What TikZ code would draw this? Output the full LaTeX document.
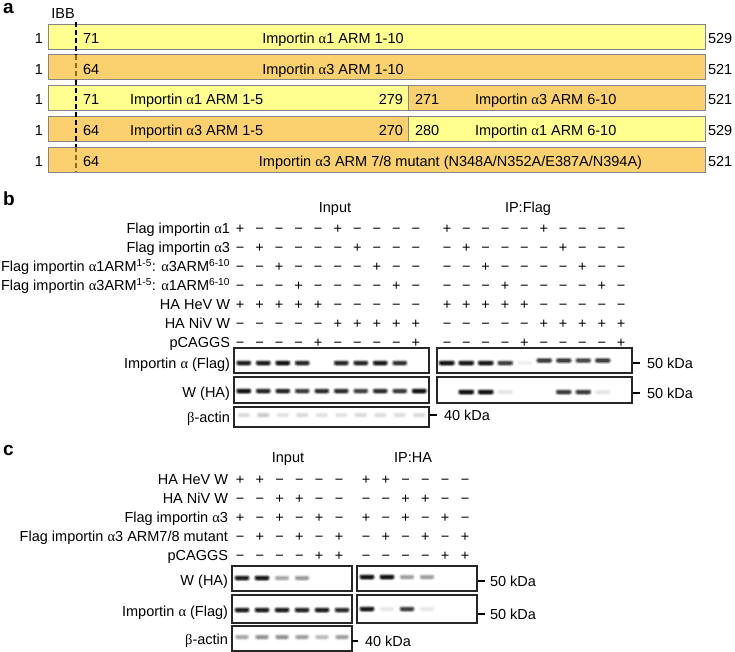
\documentclass[tikz,border=0pt]{standalone}
\usepackage{fontspec}
\setmainfont{Liberation Sans}
\newfontfamily\grk{Liberation Serif}
\newcommand\al{{\grk α}}
\newcommand\be{{\grk β}}
\definecolor{ylw}{HTML}{FFFF8F}
\definecolor{org}{HTML}{FAD16E}
\definecolor{bord}{HTML}{858585}
\definecolor{dashbr}{HTML}{8A6A20}
\newcommand\band[4]{%
  \pgfmathsetmacro\bx{#1}\pgfmathsetmacro\by{#2}%
  \pgfmathsetmacro\opa{0.22*#3}\pgfmathsetmacro\opb{0.45*#3}\pgfmathsetmacro\opc{0.8*#3}%
  \fill[black,opacity=\opa,rounded corners=3pt] ({\bx-#4-1},{\by-3.4}) rectangle ({\bx+#4+1},{\by+3.4});
  \fill[black,opacity=\opb,rounded corners=2.4pt] ({\bx-#4},{\by-2.5}) rectangle ({\bx+#4},{\by+2.5});
  \fill[black,opacity=\opc,rounded corners=1.4pt] ({\bx-#4+1.2},{\by-1.5}) rectangle ({\bx+#4-1.2},{\by+1.5});
}
\begin{document}
\begin{tikzpicture}[x=1pt,y=-1pt,
  font=\fontsize{14.5}{17}\selectfont,
  every node/.style={inner sep=0pt, outer sep=0pt},
  lbl/.style={anchor=base east},
  sym/.style={anchor=base},
  numr/.style={anchor=base west},
  blot/.style={draw=black!85, line width=1.1pt, fill=white},
  tickmark/.style={line width=1.5pt},
  barY/.style={draw=bord, line width=0.8pt, fill=ylw},
  barO/.style={draw=bord, line width=0.8pt, fill=org},
  ibb/.style={line width=1.2pt, dash pattern=on 5pt off 3pt},
  plet/.style={anchor=base west, font=\fontsize{19}{20}\selectfont\bfseries}]
\useasboundingbox (0,0) rectangle (735,652);

% ---------------- panel a ----------------
\node[plet] (pa) at (3,14) {a};
\node[anchor=base] (ibbl) at (63,18.3) {IBB};

\path[barY] (48,24) rectangle (705,49);
\path[barO] (48,54.75) rectangle (705,79.75);
\path[barY] (48,85.5) rectangle (408,110.5);
\path[barO] (408,85.5) rectangle (705,110.5);
\path[barO] (48,116.25) rectangle (408,141.25);
\path[barY] (408,116.25) rectangle (705,141.25);
\path[barO] (48,147) rectangle (705,172);

\draw[ibb] (76,22) -- (76,54.75);
\draw[ibb,dashbr] (76,54.75) -- (76,79.75);
\draw[ibb] (76,79.75) -- (76,147);
\draw[ibb,dashbr] (76,147) -- (76,172);

% bar 1
\node[lbl] (a1s) at (43,43.5) {1};
\node[numr] (a1b) at (83,43.5) {71};
\node[anchor=base] (a1t) at (333,43.5) {Importin \al1 ARM 1-10};
\node[numr] (a1e) at (708,43.5) {529};
% bar 2
\node[lbl] (a2s) at (43,74.25) {1};
\node[numr] (a2b) at (83,74.25) {64};
\node[anchor=base] (a2t) at (333,74.25) {Importin \al3 ARM 1-10};
\node[numr] (a2e) at (708,74.25) {521};
% bar 3
\node[lbl] (a3s) at (43,105) {1};
\node[numr] (a3b) at (83,105) {71};
\node[numr] (a3t) at (130,105) {Importin \al1 ARM 1-5};
\node[lbl] (a3m) at (403,105) {279};
\node[numr] (a3n) at (415,105) {271};
\node[numr] (a3u) at (475,105) {Importin \al3 ARM 6-10};
\node[numr] (a3e) at (708,105) {521};
% bar 4
\node[lbl] (a4s) at (43,135.75) {1};
\node[numr] (a4b) at (83,135.75) {64};
\node[numr] (a4t) at (130,135.75) {Importin \al3 ARM 1-5};
\node[lbl] (a4m) at (403,135.75) {270};
\node[numr] (a4n) at (415,135.75) {280};
\node[numr] (a4u) at (475,135.75) {Importin \al1 ARM 6-10};
\node[numr] (a4e) at (708,135.75) {529};
% bar 5
\node[lbl] (a5s) at (43,166.5) {1};
\node[numr] (a5b) at (83,166.5) {64};
\node[anchor=base] (a5t) at (450.5,166.5) {Importin \al3 ARM 7/8 mutant (N348A/N352A/E387A/N394A)};
\node[numr] (a5e) at (708,166.5) {521};

% ---------------- panel b ----------------
\node[plet] (pb) at (3,205) {b};
\node[anchor=base] (bin) at (335,213) {Input};
\node[anchor=base] (bip) at (528,213) {IP:Flag};

\node[lbl] (bl1) at (230,233.5) {Flag importin \al1};
\node[lbl] (bl2) at (230,252.5) {Flag importin \al3};
\node[lbl] (bl3) at (230,271.5) {Flag importin \al1ARM\textsuperscript{1-5}: \al3ARM\textsuperscript{6-10}};
\node[lbl] (bl4) at (230,290.5) {Flag importin \al3ARM\textsuperscript{1-5}: \al1ARM\textsuperscript{6-10}};
\node[lbl] (bl5) at (230,309.5) {HA HeV W};
\node[lbl] (bl6) at (230,328.5) {HA NiV W};
\node[lbl] (bl7) at (230,347.5) {pCAGGS};

\foreach \lst [count=\r from 0] in {
  {+,−,−,−,−,+,−,−,−,−},
  {−,+,−,−,−,−,+,−,−,−},
  {−,−,+,−,−,−,−,+,−,−},
  {−,−,−,+,−,−,−,−,+,−},
  {+,+,+,+,+,−,−,−,−,−},
  {−,−,−,−,−,+,+,+,+,+},
  {−,−,−,−,+,−,−,−,−,+}} {
  \foreach \s [count=\i from 0] in \lst {
    \node[sym] (bI-\r-\i) at ({240+19.55*\i},{233.5+19*\r}) {\s};
    \node[sym] (bP-\r-\i) at ({447+19.35*\i},{233.5+19*\r}) {\s};
  }
}

% blots b
\path[blot] (234,348) rectangle (429,373);
\path[blot] (234,377) rectangle (429,403);
\path[blot] (234,407) rectangle (429,427);
\path[blot] (437,348) rectangle (632,373);
\path[blot] (437,377) rectangle (632,403);

\foreach \v [count=\i from 0] in {0.9,0.92,1,0.85,0,0.85,0.85,0.95,0.78,0}
  {\band{243.75+19.5*\i}{363}{\v}{7.5}}
\foreach \v [count=\i from 0] in {1,0.85,0.85,0.72,0.8,0.8,0.68,0.8,0.72,1}
  {\band{243.75+19.5*\i}{391}{\v}{7.5}}
\foreach \v [count=\i from 0] in {0.1,0.14,0.08,0.1,0.08,0.08,0.1,0.09,0.09,0.1}
  {\band{243.75+19.5*\i}{415}{\v}{6.5}}
\foreach \v [count=\i from 0] in {1,0.95,0.95,0.7,0.04}
  {\band{446.75+19.5*\i}{363}{\v}{8}}
\foreach \v [count=\i from 5] in {0.7,0.7,0.62,0.7}
  {\band{446.75+19.5*\i}{360.5}{\v}{8}}
\foreach \v [count=\i from 0] in {0,1,1,0.07,0,0,0.72,0.72,0.07,0}
  {\band{446.75+19.5*\i}{392}{\v}{8}}

\draw[tickmark] (633,363) -- (640,363);
\node[numr] (bk1) at (647,368) {50 kDa};
\draw[tickmark] (633,393) -- (640,393);
\node[numr] (bk2) at (647,398) {50 kDa};
\draw[tickmark] (430,415) -- (437,415);
\node[numr] (bk3) at (444,420) {40 kDa};

\node[lbl] (bb1) at (230,368) {Importin \al\ (Flag)};
\node[lbl] (bb2) at (230,397) {W (HA)};
\node[lbl] (bb3) at (230,422) {\be-actin};

% ---------------- panel c ----------------
\node[plet] (pc) at (3,455) {c};
\node[anchor=base] (cin) at (288,462) {Input};
\node[anchor=base] (cip) at (413,462) {IP:HA};

\node[lbl] (cl1) at (228,484) {HA HeV W};
\node[lbl] (cl2) at (228,503) {HA NiV W};
\node[lbl] (cl3) at (228,522) {Flag importin \al3};
\node[lbl] (cl4) at (228,541) {Flag importin \al3 ARM7/8 mutant};
\node[lbl] (cl5) at (228,560) {pCAGGS};

\foreach \lst [count=\r from 0] in {
  {+,+,−,−,−,−},
  {−,−,+,+,−,−},
  {+,−,+,−,+,−},
  {−,+,−,+,−,+},
  {−,−,−,−,+,+}} {
  \foreach \s [count=\i from 0] in \lst {
    \node[sym] (cI-\r-\i) at ({240+19.8*\i},{484+19*\r}) {\s};
    \node[sym] (cP-\r-\i) at ({366+19.8*\i},{484+19*\r}) {\s};
  }
}

\path[blot] (232,566) rectangle (352,591);
\path[blot] (232,595) rectangle (352,623);
\path[blot] (232,626) rectangle (352,651);
\path[blot] (357,566) rectangle (477,591);
\path[blot] (357,595) rectangle (477,623);

\foreach \v [count=\i from 0] in {0.9,0.95,0.25,0.3,0,0}
  {\band{242+20*\i}{578}{\v}{7.5}}
\foreach \v [count=\i from 0] in {0.9,0.9,0.9,0.85,0.9,0.8}
  {\band{242+20*\i}{610}{\v}{7.5}}
\foreach \v [count=\i from 0] in {0.25,0.32,0.32,0.28,0.18,0.28}
  {\band{242+20*\i}{637}{\v}{7}}
\foreach \v [count=\i from 0] in {1,1,0.28,0.28,0,0}
  {\band{367+20*\i}{577}{\v}{7.5}}
\foreach \v [count=\i from 0] in {0.95,0.06,0.7,0.06,0,0}
  {\band{367+20*\i}{609}{\v}{7.5}}

\draw[tickmark] (478,581) -- (485,581);
\node[numr] (ck1) at (490,586) {50 kDa};
\draw[tickmark] (478,614) -- (485,614);
\node[numr] (ck2) at (490,619) {50 kDa};
\draw[tickmark] (352,641) -- (358,641);
\node[numr] (ck3) at (365,646) {40 kDa};

\node[lbl] (cb1) at (228,585) {W (HA)};
\node[lbl] (cb2) at (228,616) {Importin \al\ (Flag)};
\node[lbl] (cb3) at (228,644) {\be-actin};
\end{tikzpicture}
\end{document}
